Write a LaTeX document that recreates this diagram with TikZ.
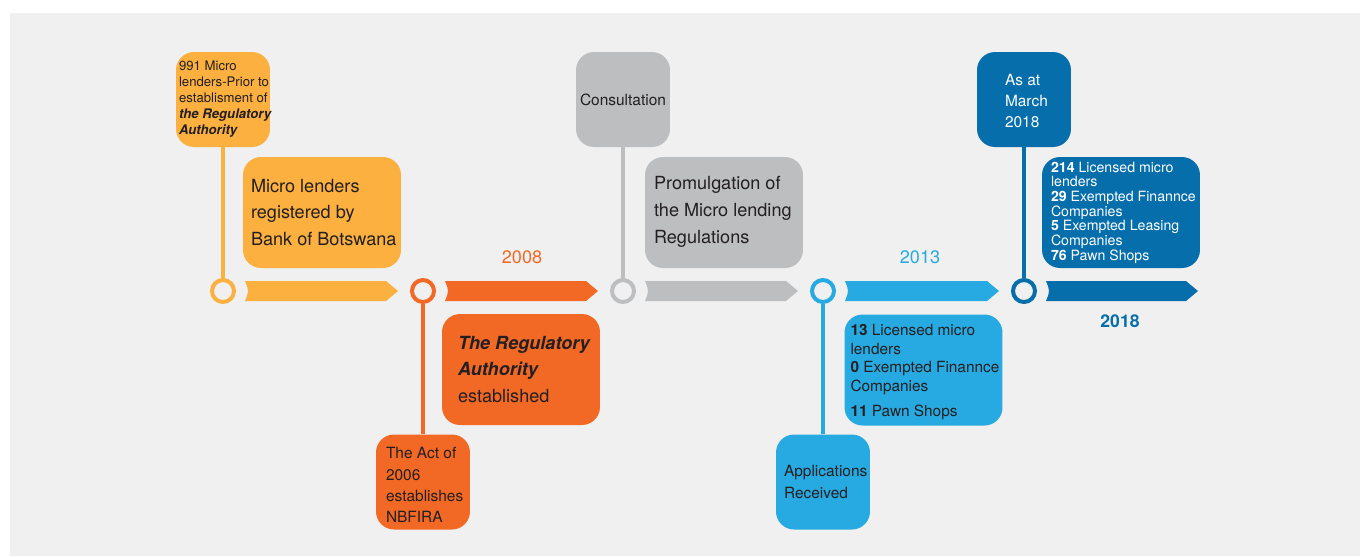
\documentclass[tikz,border=0pt]{standalone}
\usepackage{fontspec}
\setmainfont{TeX Gyre Heros}
\usetikzlibrary{calc}

\definecolor{bgGray}{HTML}{F0F0F0}
\definecolor{stepYellow}{HTML}{FBB040}
\definecolor{stepOrange}{HTML}{F26925}
\definecolor{stepGray}{HTML}{BCBEC0}
\definecolor{stepCyan}{HTML}{27AAE1}
\definecolor{stepBlue}{HTML}{066EAB}
\definecolor{ink}{HTML}{231F20}

% font sizes for the boxes
\newcommand{\noteFont}{\fontsize{7.5}{9.1}\selectfont}
\newcommand{\midFont}{\fontsize{8.8}{12.1}\selectfont}
\newcommand{\bodyFont}{\fontsize{10.3}{15.3}\selectfont}
\newcommand{\countFont}{\fontsize{8.75}{10.6}\selectfont}
\newcommand{\packFont}{\fontsize{8.05}{8.35}\selectfont}

\begin{document}
\begin{tikzpicture}[x=0.02cm, y=-0.02cm]
    \tikzstyle{ring}=[circle, line width=0.08cm, fill=bgGray, minimum size=0.44cm, inner sep=0pt]
    \tikzstyle{smallbox}=[rounded corners=0.36cm, minimum width=1.88cm, minimum height=1.9cm, inner sep=0pt]
    \tikzstyle{bigbox}=[rounded corners=0.36cm, minimum width=3.16cm, minimum height=2.22cm, inner sep=0pt]
    \tikzstyle{txt}=[anchor=west, align=left, inner sep=0pt, text=ink]
    \tikzstyle{stem}=[line width=0.07cm]
    \tikzstyle{year}=[font=\fontsize{10.3}{12}\selectfont]

    \useasboundingbox (0,0) rectangle (1360,556);
    \fill[bgGray] (10,13) rectangle (1360,556);

    % timeline points
    \node[ring, draw=stepYellow] (c1) at (223,291) {};
    \node[ring, draw=stepOrange] (c2) at (423,291) {};
    \node[ring, draw=stepGray]   (c3) at (623,291) {};
    \node[ring, draw=stepCyan]   (c4) at (823,291) {};
    \node[ring, draw=stepBlue]   (c5) at (1024,291) {};
    \coordinate (tip) at (1198,291);

    % arrow bands
    \foreach \a/\b/\col in {c1/c2/stepYellow, c2/c3/stepOrange, c3/c4/stepGray, c4/c5/stepCyan}
        \fill[\col] ($(\a.east)+(9,-10)$) -- ($(\b.west)+(-24,-10)$) -- ($(\b.west)+(-12,0)$)
            -- ($(\b.west)+(-24,10)$) -- ($(\a.east)+(9,10)$)
            .. controls ($(\a.east)+(13,0)$) .. ($(\a.east)+(9,-10)$) -- cycle;
    \fill[stepBlue] ($(c5.east)+(9,-10)$) -- ($(tip)+(-12,-10)$) -- (tip)
        -- ($(tip)+(-12,10)$) -- ($(c5.east)+(9,10)$)
        .. controls ($(c5.east)+(13,0)$) .. ($(c5.east)+(9,-10)$) -- cycle;

    % boxes
    \node[smallbox, fill=stepYellow] (b991) at (223,99.5) {};
    \node[bigbox, fill=stepYellow] (bBank) at (322,212.5) {};
    \node[bigbox, fill=stepOrange] (bAuth) at (521,369.5) {};
    \node[smallbox, fill=stepOrange] (bAct) at (423,482) {};
    \node[smallbox, fill=stepGray] (bCons) at (623,99.5) {};
    \node[bigbox, fill=stepGray] (bProm) at (724,212.5) {};
    \node[bigbox, fill=stepCyan] (bLic) at (923.5,370) {};
    \node[smallbox, fill=stepCyan] (bApp) at (823,482) {};
    \node[smallbox, fill=stepBlue] (bMar) at (1024,99.5) {};
    \node[bigbox, fill=stepBlue] (bNow) at (1121,212.5) {};

    % stems
    \draw[stem, stepYellow] (b991.south) -- (c1.north);
    \draw[stem, stepOrange] (c2.south) -- (bAct.north);
    \draw[stem, stepGray] (bCons.south) -- (c3.north);
    \draw[stem, stepCyan] (c4.south) -- (bApp.north);
    \draw[stem, stepBlue] (bMar.south) -- (c5.north);

    % box texts
    \node[txt, font=\noteFont] (t991) at ($(b991.west)+(3,0)$)
        {991 Micro\\lenders-Prior to\\establisment of\\\textbf{\textit{the Regulatory}}\\\textbf{\textit{Authority}}};
    \node[txt, font=\bodyFont] (tBank) at ($(bBank.west)+(8,0)$)
        {Micro lenders\\registered by\\Bank of Botswana};
    \node[txt, font=\bodyFont] (tAuth) at ($(bAuth.west)+(16,0)$)
        {\textbf{\textit{The Regulatory}}\\\textbf{\textit{Authority}}\\established};
    \node[txt, font=\midFont] (tAct) at ($(bAct.west)+(10,3)$)
        {The Act of\\2006\\establishes\\NBFIRA};
    \node[txt, font=\midFont] (tCons) at ($(bCons.west)+(4,0)$) {Consultation};
    \node[txt, font=\bodyFont] (tProm) at ($(bProm.west)+(9,-1)$)
        {Promulgation of\\the Micro lending\\Regulations};
    \node[txt, font=\countFont] (tLic) at ($(bLic.west)+(6,2)$)
        {\textbf{13} Licensed micro\\lenders\\\textbf{0} Exempted Finannce\\Companies\\[3.4pt]\textbf{11} Pawn Shops};
    \node[txt, font=\midFont] (tApp) at ($(bApp.west)+(8,0)$) {Applications\\Received};
    \node[txt, font=\midFont, text=white] (tMar) at ($(bMar.west)+(28,1.5)$) {As at\\March\\2018};
    \node[txt, font=\packFont, text=white] (tNow) at ($(bNow.west)+(9,0)$)
        {\textbf{214} Licensed micro\\lenders\\\textbf{29} Exempted Finannce\\Companies\\\textbf{5} Exempted Leasing\\Companies\\\textbf{76} Pawn Shops};

    % years
    \node[year, text=stepOrange] (y2008) at (522,257) {2008};
    \node[year, text=stepCyan] (y2013) at (920,257) {2013};
    \node[year, text=stepBlue, font=\bfseries] (y2018) at (1120,321) {2018};
\end{tikzpicture}
\end{document}
